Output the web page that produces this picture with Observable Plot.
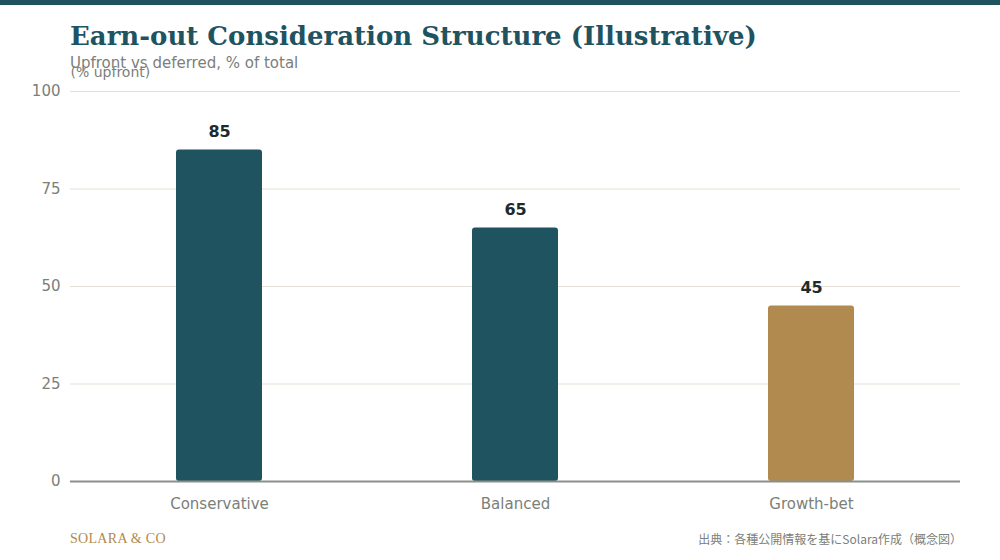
<!DOCTYPE html>
<html>
<head>
<meta charset="utf-8">
<script src="https://cdn.jsdelivr.net/npm/d3@7"></script>
<script src="https://cdn.jsdelivr.net/npm/@observablehq/plot@0.6"></script>
<style>
  html, body { margin: 0; padding: 0; background: #ffffff; width: 1000px; height: 560px; overflow: hidden; }
  #topbar { position: absolute; left: 0; top: 0; width: 1000px; height: 5px; background: #1f5360; }
  #title { position: absolute; left: 70px; top: 21px; font-family: "DejaVu Serif", serif; font-weight: bold; font-size: 26px; color: #1f5360; white-space: nowrap; }
  #subtitle { position: absolute; left: 70px; top: 54px; font-family: "DejaVu Sans", sans-serif; font-size: 15px; color: #7a807a; white-space: nowrap; }
  #chart { position: absolute; left: 0; top: 60px; }
  #brand { position: absolute; left: 70px; top: 531px; font-family: "Liberation Serif", "DejaVu Serif", serif; font-size: 14px; color: #b08a4e; letter-spacing: 0.3px; }
  #source { position: absolute; right: 38px; top: 530px; font-family: "Noto Sans CJK JP", "DejaVu Sans", sans-serif; font-size: 12px; color: #7a807a; }
</style>
</head>
<body>
<div id="topbar"></div>
<div id="title">Earn-out Consideration Structure (Illustrative)</div>
<div id="subtitle">Upfront vs deferred, % of total</div>
<div id="chart"></div>
<div id="brand">SOLARA &amp; CO</div>
<div id="source">出典：各種公開情報を基にSolara作成（概念図）</div>
<script>
const categories = ["Conservative", "Balanced", "Growth-bet"];
const upfront = [85, 65, 45];
const barColors = ["#1f5360", "#1f5360", "#b08a4e"];
const yTicks = [0, 25, 50, 75, 100];
const yLabel = "(% upfront)";

const data = categories.map((c, i) => ({category: c, value: upfront[i], color: barColors[i]}));

const chart = Plot.plot({
  width: 1000,
  height: 460,
  marginLeft: 70,
  marginRight: 40,
  marginTop: 31,
  marginBottom: 39,
  style: { fontFamily: "DejaVu Sans, sans-serif", fontSize: "15px", color: "#7a807a", background: "transparent" },
  x: { domain: categories, paddingInner: 0.71, paddingOuter: 0.355, label: null },
  y: { domain: [0, 100], ticks: yTicks, label: null },
  marks: [
    Plot.gridY(yTicks, { stroke: "#e6e0d6", strokeOpacity: 1, strokeWidth: 1 }),
    Plot.axisY({ ticks: yTicks, tickSize: 0, tickPadding: 10, fontSize: 15, fill: "#7a807a", label: null }),
    Plot.axisX({ tickSize: 0, tickPadding: 17, fontSize: 15, fill: "#7a807a", label: null }),
    Plot.barY(data, { x: "category", y: "value", fill: "color", rx: 3 }),
    Plot.ruleY([0], { stroke: "#8a9088", strokeWidth: 2 }),
    Plot.text(data, { x: "category", y: "value", text: d => String(d.value), dy: -18, fontSize: 16, fontWeight: "bold", fill: "#1f2a2a" }),
    Plot.text([yLabel], { frameAnchor: "top-left", dy: -24, textAnchor: "start", fontSize: 14, fill: "#7a807a", text: d => d })
  ]
});
document.getElementById("chart").appendChild(chart);
</script>
</body>
</html>
